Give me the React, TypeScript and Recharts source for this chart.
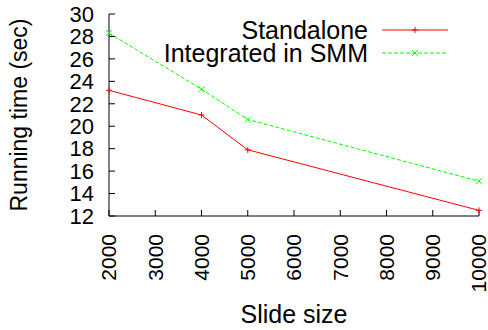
import React from "react";
import { LineChart, Line, XAxis, YAxis, Legend, Label } from "recharts";

const slideSizes = [2000, 4000, 5000, 10000];
const standalone = [23.2, 21.0, 17.9, 12.5];
const integrated = [28.3, 23.3, 20.6, 15.1];
const seriesNames = ["Standalone", "Integrated in SMM"];
const xTicks = [2000, 3000, 4000, 5000, 6000, 7000, 8000, 9000, 10000];
const yTicks = [12, 14, 16, 18, 20, 22, 24, 26, 28, 30];

const data = slideSizes.map((size, i) => ({
  size,
  standalone: standalone[i],
  integrated: integrated[i],
}));

const FONT = "'Liberation Sans', Arial, Helvetica, sans-serif";

const PlusDot = props => {
  const { cx, cy, stroke } = props;
  if (cx == null || cy == null) return null;
  return <path d={`M${cx - 3},${cy}h6M${cx},${cy - 3}v6`} stroke={stroke} strokeWidth={1} fill="none" />;
};

const CrossDot = props => {
  const { cx, cy, stroke } = props;
  if (cx == null || cy == null) return null;
  return (
    <path
      d={`M${cx - 3},${cy - 3}l6,6M${cx - 3},${cy + 3}l6,-6`}
      stroke={stroke}
      strokeWidth={1}
      fill="none"
    />
  );
};

const XTick = props => {
  const { x, y, payload } = props;
  return (
    <text
      x={x}
      y={y}
      dy="0.35em"
      textAnchor="end"
      transform={`rotate(-90 ${x} ${y})`}
      fontSize={21}
      fill="#000"
    >
      {payload.value}
    </text>
  );
};

const YTitle = props => {
  const { viewBox } = props;
  const cx = viewBox.x + 27;
  const cy = viewBox.y + viewBox.height / 2;
  return (
    <text x={cx} y={cy} textAnchor="middle" transform={`rotate(-90 ${cx} ${cy})`} fontSize={23} fill="#000">
      Running time (sec)
    </text>
  );
};

// legend drawn in gnuplot style: text right-aligned, sample line to the right
const LegendBox = props => {
  const { payload } = props;
  const entries = seriesNames.map(name => payload.find(p => p.value === name)).filter(Boolean);
  return (
    <svg width={488} height={70}>
      {entries.map((entry, i) => {
        const y = 30 + i * 23;
        const Marker = i === 0 ? PlusDot : CrossDot;
        return (
          <g key={entry.value}>
            <text x={368} y={y} dy="0.35em" textAnchor="end" fontSize={25} fill="#000">
              {entry.value}
            </text>
            <line
              x1={382}
              x2={448}
              y1={y}
              y2={y}
              stroke={entry.color}
              strokeDasharray={i === 1 ? "4 2" : undefined}
            />
            <Marker cx={415} cy={y} stroke={entry.color} />
          </g>
        );
      })}
    </svg>
  );
};

export default function App() {
  return (
    <div style={{ position: "absolute", left: 0, top: 0, fontFamily: FONT, background: "#fff" }}>
      <LineChart width={488} height={330} data={data} margin={{ top: 14, right: 9, bottom: 0, left: 0 }}>
        <XAxis
          dataKey="size"
          type="number"
          domain={[2000, 10000]}
          ticks={xTicks}
          interval={0}
          height={114}
          tickSize={-6}
          tickMargin={24}
          tick={<XTick />}
          stroke="#000"
        >
          <Label value="Slide size" position="insideBottom" offset={7} fontSize={25} fill="#000" />
        </XAxis>
        <XAxis
          xAxisId="top"
          orientation="top"
          type="number"
          domain={[2000, 10000]}
          allowDataOverflow
          ticks={xTicks}
          interval={0}
          height={0}
          tickSize={-6}
          tick={false}
          stroke="#000"
        />
        <YAxis
          type="number"
          domain={[12, 30]}
          ticks={yTicks}
          interval={0}
          width={109}
          tickSize={-6}
          tickMargin={21}
          tick={{ fontSize: 22, fill: "#000" }}
          stroke="#000"
        >
          <Label content={<YTitle />} />
        </YAxis>
        <YAxis
          yAxisId="right"
          orientation="right"
          type="number"
          domain={[12, 30]}
          allowDataOverflow
          ticks={yTicks}
          interval={0}
          width={0}
          tickSize={-6}
          tick={false}
          stroke="#000"
        />
        <Legend
          layout="horizontal"
          verticalAlign="middle"
          align="center"
          content={<LegendBox />}
          wrapperStyle={{ position: "absolute", left: 0, top: 0, width: 488, height: 70 }}
        />
        <Line
          name="Standalone"
          dataKey="standalone"
          stroke="#ff0000"
          strokeWidth={1}
          dot={<PlusDot />}
          activeDot={false}
          isAnimationActive={false}
        />
        <Line
          name="Integrated in SMM"
          dataKey="integrated"
          stroke="#00ff00"
          strokeWidth={1}
          strokeDasharray="4 2"
          dot={<CrossDot />}
          activeDot={false}
          isAnimationActive={false}
        />
      </LineChart>
    </div>
  );
}
